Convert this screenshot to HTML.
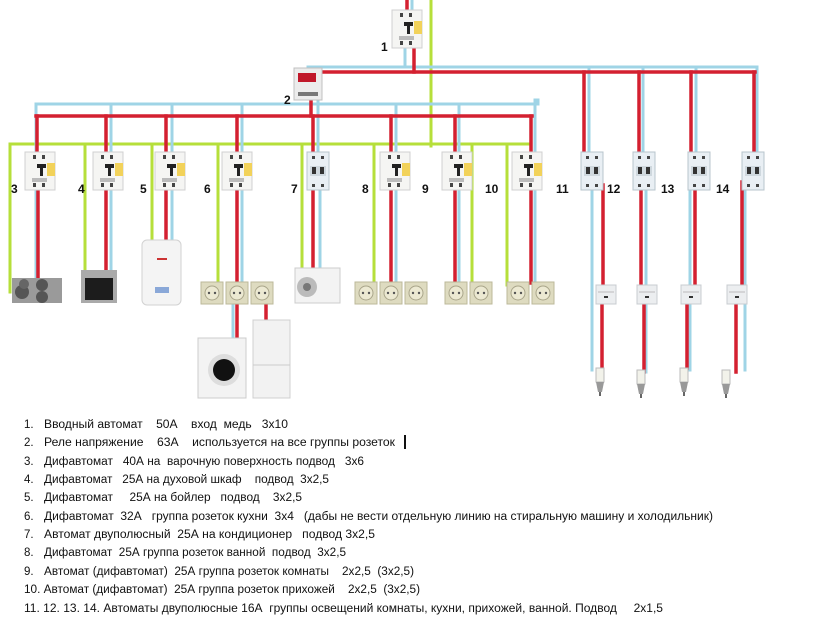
<!DOCTYPE html>
<html><head><meta charset="utf-8"><style>
html,body{margin:0;padding:0;background:#fff;width:819px;height:637px;overflow:hidden}
svg{display:block}
text{font-family:"Liberation Sans","DejaVu Sans",sans-serif;white-space:pre}
</style></head><body>
<svg width="819" height="637" viewBox="0 0 819 637" xmlns="http://www.w3.org/2000/svg" xml:space="preserve">
<defs>
<g id="dif">
<rect x="0" y="0" width="30" height="38" fill="#f5f5f3" stroke="#d0d0d0"/>
<rect x="22" y="11" width="8" height="13" fill="#f2d25a"/>
<rect x="12" y="12" width="9" height="4" fill="#222"/><rect x="15" y="15" width="3" height="9" fill="#222"/>
<rect x="8" y="3" width="3" height="4" fill="#444"/><rect x="17" y="3" width="3" height="4" fill="#444"/>
<rect x="8" y="31" width="3" height="4" fill="#444"/><rect x="17" y="31" width="3" height="4" fill="#444"/>
<rect x="7" y="26" width="15" height="4" fill="#bbb"/>
</g>
<g id="two">
<rect x="0" y="0" width="22" height="38" fill="#e9eff4" stroke="#b8c4cc"/>
<rect x="3" y="14" width="16" height="10" fill="#cfd8de"/>
<rect x="5" y="15" width="4" height="7" fill="#333"/><rect x="13" y="15" width="4" height="7" fill="#333"/>
<rect x="5" y="4" width="3" height="3" fill="#444"/><rect x="14" y="4" width="3" height="3" fill="#444"/>
<rect x="5" y="32" width="3" height="3" fill="#444"/><rect x="14" y="32" width="3" height="3" fill="#444"/>
</g>
<g id="sock">
<rect x="0" y="0" width="22" height="22" fill="#dedbc0" stroke="#bcb89a"/>
<circle cx="11" cy="11" r="7" fill="#ece9d2" stroke="#a9a58a"/>
<circle cx="8" cy="11" r="1.2" fill="#555"/><circle cx="14" cy="11" r="1.2" fill="#555"/>
</g>
<g id="sw">
<rect x="0" y="0" width="20" height="19" fill="#eceef0" stroke="#c8ccd0"/>
<line x1="2" y1="7" x2="18" y2="7" stroke="#bbb"/>
<rect x="8" y="11" width="4" height="2" fill="#333"/>
</g>
<g id="bulb">
<path d="M-4 0 h8 v14 h-8z" fill="#f2f2ea" stroke="#bbb"/>
<path d="M-4 14 h8 l-2 10 h-4z" fill="#999"/>
<line x1="0" y1="24" x2="0" y2="28" stroke="#666" stroke-width="2"/>
</g>
</defs>

<g fill="none" stroke-linecap="square">
<g stroke="#b6df3a" stroke-width="3">
<path d="M431 0 V146"/>
<path d="M10 144 H530"/>
<path d="M10 144 V292"/><path d="M85 144 V272"/><path d="M152 144 V242"/><path d="M218 144 V288"/>
<path d="M302 144 V270"/><path d="M374 144 V288"/><path d="M472 144 V285"/><path d="M507 144 V285"/>
</g>
<g stroke="#9fd4e6" stroke-width="3">
<path d="M412 0 V12"/><path d="M405 48 V67"/>
<path d="M308 67 H757"/><path d="M308 67 V70"/>
<path d="M36 104 H538"/><path d="M538 100 V104"/><path d="M318 100 V150"/>
<path d="M36 104 V150"/><path d="M36 190 V280"/>
<path d="M111 104 V272"/><path d="M172 104 V242"/><path d="M242 104 V290"/><path d="M233 305 V340"/>
<path d="M320 190 V270"/><path d="M396 104 V285"/><path d="M459 104 V283"/><path d="M535 100 V283"/>
<path d="M589 67 V152"/><path d="M592 190 V370"/>
<path d="M643 67 V152"/><path d="M646 190 V372"/>
<path d="M696 67 V152"/><path d="M690 190 V370"/>
<path d="M757 67 V152"/><path d="M745 190 V370"/>
</g>
<g stroke="#d42030" stroke-width="3.5">
<path d="M407 0 V12"/><path d="M414 48 V72"/>
<path d="M318 72 H755"/>
<path d="M311 100 V116"/>
<path d="M36 116 H532"/>
<path d="M37 116 V150"/><path d="M38 190 V285"/>
<path d="M106 116 V272"/><path d="M166 116 V242"/><path d="M237 116 V290"/><path d="M237 305 V340"/><path d="M266 298 V322"/>
<path d="M313 116 V270"/><path d="M391 116 V285"/><path d="M455 116 V283"/><path d="M531 116 V283"/>
<path d="M584 72 V152"/><path d="M603 185 V290"/><path d="M602 305 V368"/>
<path d="M639 72 V152"/><path d="M641 190 V290"/><path d="M644 305 V372"/>
<path d="M691 72 V152"/><path d="M695 190 V290"/><path d="M687 305 V368"/>
<path d="M754 72 V152"/><path d="M742 182 V290"/><path d="M736 305 V372"/>
</g>
</g>

<use href="#dif" x="392" y="10"/>
<use href="#dif" x="25" y="152"/><use href="#dif" x="93" y="152"/><use href="#dif" x="155" y="152"/>
<use href="#dif" x="222" y="152"/><use href="#dif" x="380" y="152"/><use href="#dif" x="442" y="152"/><use href="#dif" x="512" y="152"/>
<use href="#two" x="307" y="152"/>
<use href="#two" x="581" y="152"/><use href="#two" x="633" y="152"/><use href="#two" x="688" y="152"/><use href="#two" x="742" y="152"/>
<rect x="294" y="68" width="28" height="32" fill="#ececec" stroke="#c0c0c0"/>
<rect x="298" y="73" width="18" height="9" fill="#c0182a"/>
<rect x="298" y="92" width="20" height="4" fill="#777"/>

<rect x="12" y="278" width="50" height="25" fill="#9a9a9a"/>
<circle cx="22" cy="292" r="7" fill="#555"/><circle cx="42" cy="285" r="6" fill="#555"/><circle cx="42" cy="297" r="6" fill="#555"/><circle cx="24" cy="284" r="5" fill="#666"/>
<rect x="81" y="270" width="36" height="33" fill="#aaa"/><rect x="85" y="278" width="28" height="22" fill="#1c1c1c"/>
<rect x="142" y="240" width="39" height="65" rx="5" fill="#f4f4f4" stroke="#d2d2d2"/><rect x="155" y="287" width="14" height="6" fill="#8aa8d8"/><rect x="157" y="258" width="10" height="2" fill="#c33"/>
<use href="#sock" x="201" y="282"/><use href="#sock" x="226" y="282"/><use href="#sock" x="251" y="282"/>
<rect x="198" y="338" width="48" height="60" fill="#f3f3f3" stroke="#ccc"/><circle cx="224" cy="370" r="16" fill="#ddd"/><circle cx="224" cy="370" r="11" fill="#111"/>
<rect x="253" y="320" width="37" height="78" fill="#f2f2f2" stroke="#d0d0d0"/><line x1="253" y1="365" x2="290" y2="365" stroke="#ccc"/>
<rect x="295" y="268" width="45" height="35" fill="#f3f3f3" stroke="#ccc"/><circle cx="307" cy="287" r="10" fill="#bbb"/><circle cx="307" cy="287" r="4" fill="#777"/>
<use href="#sock" x="355" y="282"/><use href="#sock" x="380" y="282"/><use href="#sock" x="405" y="282"/>
<use href="#sock" x="445" y="282"/><use href="#sock" x="470" y="282"/>
<use href="#sock" x="507" y="282"/><use href="#sock" x="532" y="282"/>
<use href="#sw" x="596" y="285"/><use href="#sw" x="637" y="285"/><use href="#sw" x="681" y="285"/><use href="#sw" x="727" y="285"/>
<use href="#bulb" x="600" y="368"/><use href="#bulb" x="641" y="370"/><use href="#bulb" x="684" y="368"/><use href="#bulb" x="726" y="370"/>

<g font-size="12" font-weight="bold" fill="#111">
<text x="381" y="51">1</text><text x="284" y="104">2</text>
<text x="11" y="193">3</text><text x="78" y="193">4</text><text x="140" y="193">5</text><text x="204" y="193">6</text>
<text x="291" y="193">7</text><text x="362" y="193">8</text><text x="422" y="193">9</text><text x="485" y="193">10</text>
<text x="556" y="193">11</text><text x="607" y="193">12</text><text x="661" y="193">13</text><text x="716" y="193">14</text>
</g>
<g font-size="11.5" fill="#111">
<text x="24" y="428">1.</text><text x="44" y="428" textLength="244" lengthAdjust="spacingAndGlyphs">Вводный автомат    50А    вход  медь   3х10</text>
<text x="24" y="446">2.</text><text x="44" y="446" textLength="351" lengthAdjust="spacingAndGlyphs">Реле напряжение    63А    используется на все группы розеток</text>
<rect x="404" y="435" width="2" height="14" fill="#111"/>
<text x="24" y="465">3.</text><text x="44" y="465" textLength="320" lengthAdjust="spacingAndGlyphs">Дифавтомат   40А на  варочную поверхность подвод   3х6</text>
<text x="24" y="483">4.</text><text x="44" y="483" textLength="285" lengthAdjust="spacingAndGlyphs">Дифавтомат   25А на духовой шкаф    подвод  3х2,5</text>
<text x="24" y="501">5.</text><text x="44" y="501" textLength="258" lengthAdjust="spacingAndGlyphs">Дифавтомат     25А на бойлер   подвод    3х2,5</text>
<text x="24" y="520">6.</text><text x="44" y="520" textLength="669" lengthAdjust="spacingAndGlyphs">Дифавтомат  32А   группа розеток кухни  3х4   (дабы не вести отдельную линию на стиральную машину и холодильник)</text>
<text x="24" y="538">7.</text><text x="44" y="538" textLength="331" lengthAdjust="spacingAndGlyphs">Автомат двуполюсный  25А на кондиционер   подвод 3х2,5</text>
<text x="24" y="556">8.</text><text x="44" y="556" textLength="302" lengthAdjust="spacingAndGlyphs">Дифавтомат  25А группа розеток ванной  подвод  3х2,5</text>
<text x="24" y="575">9.</text><text x="44" y="575" textLength="370" lengthAdjust="spacingAndGlyphs">Автомат (дифавтомат)  25А группа розеток комнаты    2х2,5  (3х2,5)</text>
<text x="24" y="593" textLength="396" lengthAdjust="spacingAndGlyphs">10. Автомат (дифавтомат)  25А группа розеток прихожей    2х2,5  (3х2,5)</text>
<text x="24" y="612" textLength="639" lengthAdjust="spacingAndGlyphs">11. 12. 13. 14. Автоматы двуполюсные 16А  группы освещений комнаты, кухни, прихожей, ванной. Подвод     2х1,5</text>
</g>
</svg>
</body></html>
